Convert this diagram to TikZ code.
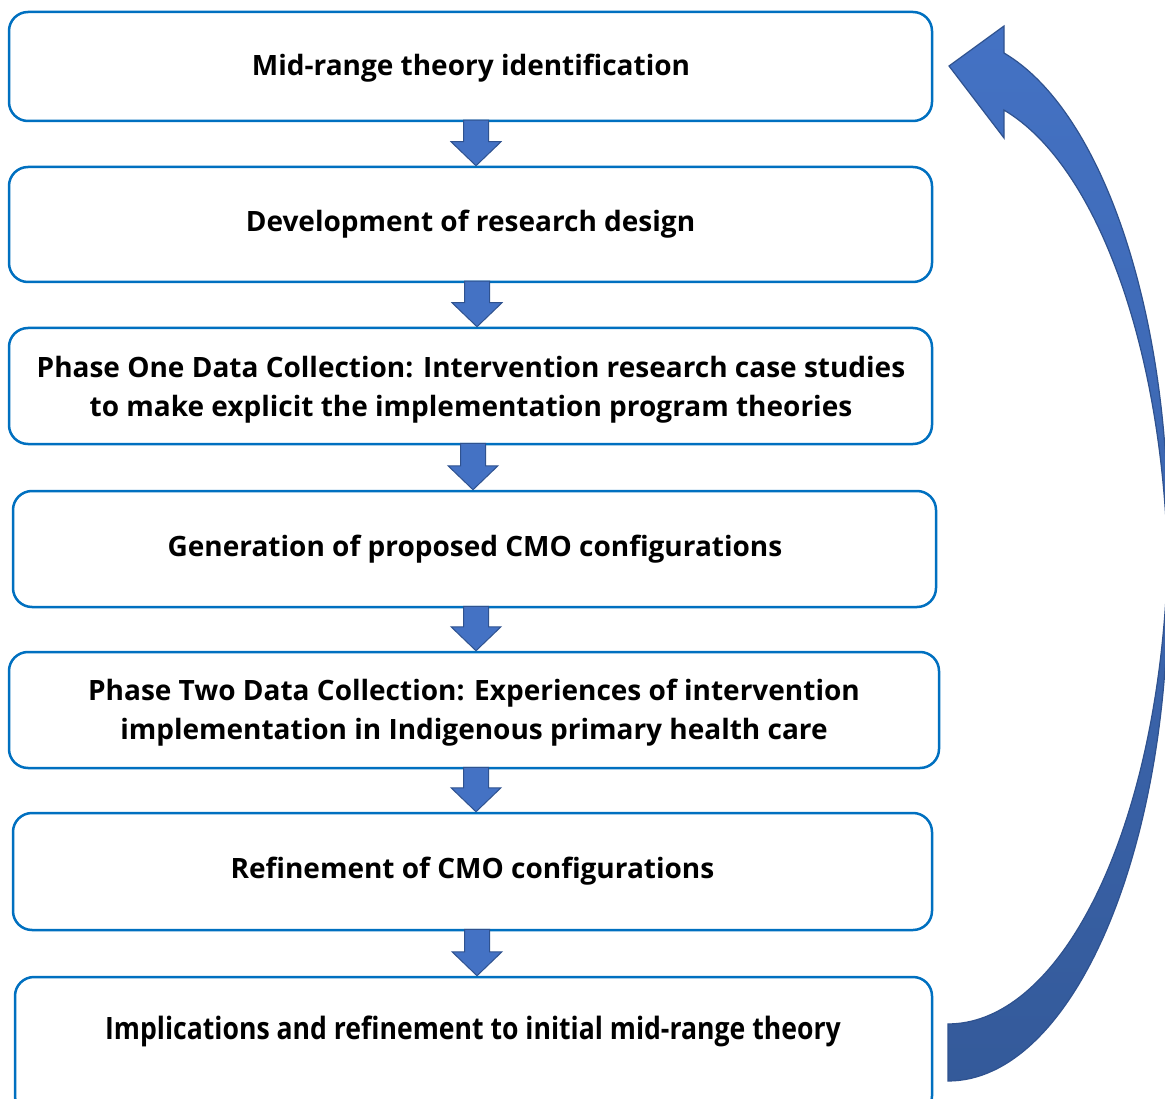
\documentclass[tikz,border=0pt]{standalone}
\usepackage{fontspec}
\setmainfont{Open Sans}
\usetikzlibrary{calc}
\definecolor{boxblue}{RGB}{0,112,192}
\definecolor{arrowblue}{RGB}{68,114,196}
\definecolor{arrowedge}{RGB}{47,82,143}
\definecolor{arrowdark}{RGB}{52,90,154}
\tikzset{
  stagebox/.style={draw=boxblue, line width=2.5pt, rounded corners=19pt, fill=white, inner sep=0pt},
  stagetext/.style={align=center, font=\bfseries\fontsize{28}{39}\selectfont, inner sep=0pt},
  blockarrow/.style={fill=arrowblue, draw=arrowedge, line width=1pt, line join=miter},
}
% block arrow pointing down from the bottom of #1 to the top of #2, centred at x=#3
\newcommand\stepdown[3]{%
  \draw[blockarrow] let \p1=(#1.south), \p2=(#2.north) in
    (#3pt-12.5pt,\y1+2pt) -- (#3pt+12.5pt,\y1+2pt) -- (#3pt+12.5pt,\y2+24pt)
    -- (#3pt+25pt,\y2+24pt) -- (#3pt,\y2) -- (#3pt-25pt,\y2+24pt)
    -- (#3pt-12.5pt,\y2+24pt) -- cycle;}
\begin{document}
\begin{tikzpicture}[x=1pt,y=-1pt]
\clip (0,0) rectangle (1165,1099);
\fill[white] (0,0) rectangle (1165,1099);

% stage frames
\node[stagebox, minimum width=923pt, minimum height=109pt] (b1) at (470.5,66.5) {};
\node[stagebox, minimum width=923pt, minimum height=115pt] (b2) at (470.5,224.5) {};
\node[stagebox, minimum width=923pt, minimum height=116pt] (b3) at (470.5,386) {};
\node[stagebox, minimum width=923pt, minimum height=116pt] (b4) at (474.5,549) {};
\node[stagebox, minimum width=930pt, minimum height=116pt] (b5) at (474,710) {};
\node[stagebox, minimum width=919pt, minimum height=117pt] (b6) at (472.5,871.5) {};
\node[stagebox, minimum width=917pt, minimum height=138pt] (b7) at (473.5,1046) {};

% stage titles
\node[stagetext] (t1) at (471,68.5) {Mid-range theory identification};
\node[stagetext] (t2) at (470.5,224.5) {Development of research design};
\node[stagetext] (t3) at (471,390) {Phase One Data Collection: Intervention research case studies\\to make explicit the implementation program theories};
\node[stagetext] (t4) at (475,549) {Generation of proposed CMO configurations};
\node[stagetext] (t5) at (474,713) {Phase Two Data Collection: Experiences of intervention\\implementation in Indigenous primary health care};
\node[stagetext] (t6) at (472.5,871.5) {Refinement of CMO configurations};
\node[stagetext] (t7) at (473,1031)
  {\scalebox{0.95}[1.1]{Implications and refinement to initial mid-range theory}};

% arrows between stages
\stepdown{b1}{b2}{476}
\stepdown{b2}{b3}{477}
\stepdown{b3}{b4}{473}
\stepdown{b4}{b5}{476}
\stepdown{b5}{b6}{476}
\stepdown{b6}{b7}{477}

% feedback arrow from the last stage back to the first
\path[draw=arrowedge, line width=1.2pt, top color=arrowblue, bottom color=arrowdark]
  (1004,53) arc[start angle=75.26, end angle=-90, x radius=220pt, y radius=493.6pt]
  -- (948,1081) arc[start angle=-90, end angle=75.26, x radius=220pt, y radius=493.6pt]
  -- (1004,138) -- (949,66) -- (1004,26) -- cycle;
\end{tikzpicture}
\end{document}
